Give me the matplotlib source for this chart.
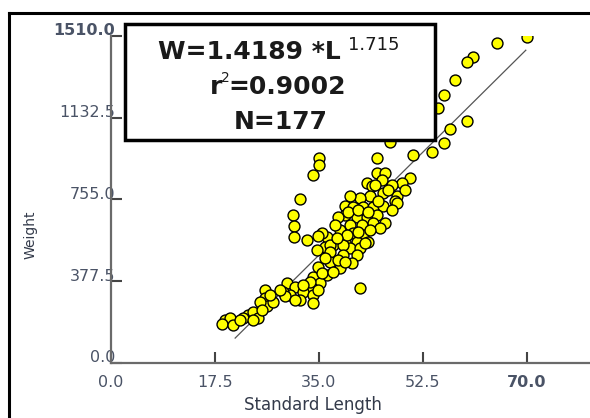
import matplotlib.pyplot as plt
from matplotlib.patches import Rectangle
from matplotlib.lines import Line2D
from matplotlib.transforms import ScaledTranslation
import numpy as np

# Standard length (L) and weight (W) of sampled fish
length = [70.0, 64.9, 60.9, 59.9, 57.9, 56.0, 55.0, 59.9, 57.0, 56.0,
          54.0, 50.8, 46.9, 44.8, 35.0, 35.0, 34.0, 31.8,
          44.8, 46.1, 45.6, 43.1, 43.9, 50.3, 49.0, 47.3, 44.4, 48.1,
          45.8, 43.6, 41.9, 40.2, 39.4, 40.7, 42.4, 44.1, 45.8, 47.8,
          39.4, 41.4, 43.1, 44.8, 46.1, 44.1, 42.2, 40.2, 38.5, 40.7,
          42.4, 43.2, 41.4, 39.4, 37.4, 36.3, 35.5, 36.0, 40.2, 41.9,
          38.2, 30.6, 30.8, 30.8, 33.0, 34.8, 36.8, 39.0, 42.7,
          34.7, 36.8, 39.0, 41.4, 36.8, 34.8, 38.5, 40.6, 34.0, 36.3,
          35.2, 33.8, 29.6, 31.0, 32.3, 34.0, 34.0, 41.9, 30.1, 28.9,
          19.2, 20.0, 18.7, 20.5, 23.1, 23.9, 24.7, 22.2, 25.9, 25.9,
          26.3, 27.3, 26.8, 29.3, 25.1, 23.9, 48.1, 49.5,
          37.7, 39.9, 41.6, 43.2, 44.9, 46.6, 47.3, 45.3, 43.6, 41.6,
          39.7, 38.0, 36.0, 38.2, 39.4, 35.5, 37.4, 33.5, 34.8, 31.8,
          28.4, 31.0, 32.3, 21.7, 25.4]
weight = [1505, 1478, 1413, 1390, 1308, 1239, 1179, 1119, 1082, 1017,
          976, 958, 1022, 948, 948, 916, 866, 755,
          879, 875, 847, 833, 815, 856, 829, 824, 820, 773,
          783, 773, 760, 773, 727, 718, 718, 718, 727, 750,
          681, 672, 672, 681, 645, 645, 635, 635, 612, 599,
          589, 557, 557, 557, 543, 580, 599, 534, 529, 529,
          672, 681, 631, 580, 566, 585, 543, 543, 552,
          520, 511, 497, 497, 465, 442, 437, 460, 396, 405,
          368, 345, 368, 350, 327, 313, 276, 345, 313, 327,
          198, 207, 180, 175, 221, 235, 207, 207, 336, 299,
          262, 281, 313, 308, 281, 198, 737, 797,
          635, 695, 704, 695, 750, 797, 704, 622, 612, 603,
          589, 575, 483, 474, 465, 414, 419, 373, 336, 290,
          336, 290, 359, 198, 244]

# fitted line end points
fit_l = [20.9, 69.8]
fit_w = [115, 1444]

xticks = [0.0, 17.5, 35.0, 52.5, 70.0]
yticks = [0.0, 377.5, 755.0, 1132.5, 1510.0]

fig = plt.figure(figsize=(5.9, 4.18), dpi=100)
ax = fig.add_axes([0.188, 0.1316, 0.812, 0.7825])

ax.plot(fit_l, fit_w, color='#555555', lw=0.9, zorder=2)
ax.scatter(length, weight, s=62, c='#ffff00', edgecolors='black',
           linewidths=1.0, zorder=3)

ax.set_xlim(0, 80.6)
ax.set_ylim(0, 1505)
ax.set_xticks(xticks)
ax.set_yticks(yticks)
ax.set_xticklabels(['%.1f' % v for v in xticks])
ax.set_yticklabels(['%.1f' % v for v in yticks])
for s in ['top', 'right']:
    ax.spines[s].set_visible(False)
for s in ['left', 'bottom']:
    ax.spines[s].set_color('#6a6a6a')
    ax.spines[s].set_linewidth(1.6)
ax.tick_params(axis='both', direction='in', length=8, width=1.5,
               color='#444444', labelcolor='#4a5366', labelsize=11.5)
ax.tick_params(axis='x', pad=9)
ax.tick_params(axis='y', pad=-3)
ax.get_xticklabels()[-1].set_fontweight('bold')
ax.get_yticklabels()[-1].set_fontweight('bold')
# y labels sit a little above their ticks
shift = ScaledTranslation(0, 0.065, fig.dpi_scale_trans)
for lab in ax.get_yticklabels():
    lab.set_transform(lab.get_transform() + shift)

fig.text(0.530, 0.031, 'Standard Length', fontsize=12, color='#333a4a',
         ha='center', va='center')
fig.text(0.052, 0.438, 'Weight', rotation=90, fontsize=10, color='#333a4a',
         ha='center', va='center')

# outer frame (left and top edges)
fig.add_artist(Line2D([0.0145, 0.0145], [0.0, 0.969], color='black', lw=2.2))
fig.add_artist(Line2D([0.0145, 1.0], [0.969, 0.969], color='black', lw=2.2))

# equation box
fig.add_artist(Rectangle((0.212, 0.665), 0.525, 0.278, facecolor='white',
                         edgecolor='black', lw=2.5, zorder=5))


def runs(parts, xc, y):
    # lay out text pieces one after another, centred on xc
    fig.canvas.draw()
    r = fig.canvas.get_renderer()
    arts = []
    for txt, size, wt, dy, gap in parts:
        t = fig.text(0, y + dy, txt, fontsize=size, fontweight=wt,
                     ha='left', va='center', color='#1a1a1a', zorder=6)
        arts.append((t, gap))
    widths = [t.get_window_extent(r).width + g for t, g in arts]
    x = xc * fig.bbox.width - sum(widths) / 2
    for (t, g), w in zip(arts, widths):
        t.set_x(x / fig.bbox.width)
        x += w


runs([('W=1.4189 *L', 18, 'bold', 0, 7), ('1.715', 13, 'normal', 0.016, 0)],
     0.473, 0.876)
runs([('r', 18, 'bold', 0, -1), ('2', 10, 'normal', 0.022, -1),
      ('=0.9002', 18, 'bold', 0, 0)], 0.471, 0.791)
runs([('N=177', 18, 'bold', 0, 0)], 0.475, 0.708)

fig.savefig('out.png', dpi=100)
